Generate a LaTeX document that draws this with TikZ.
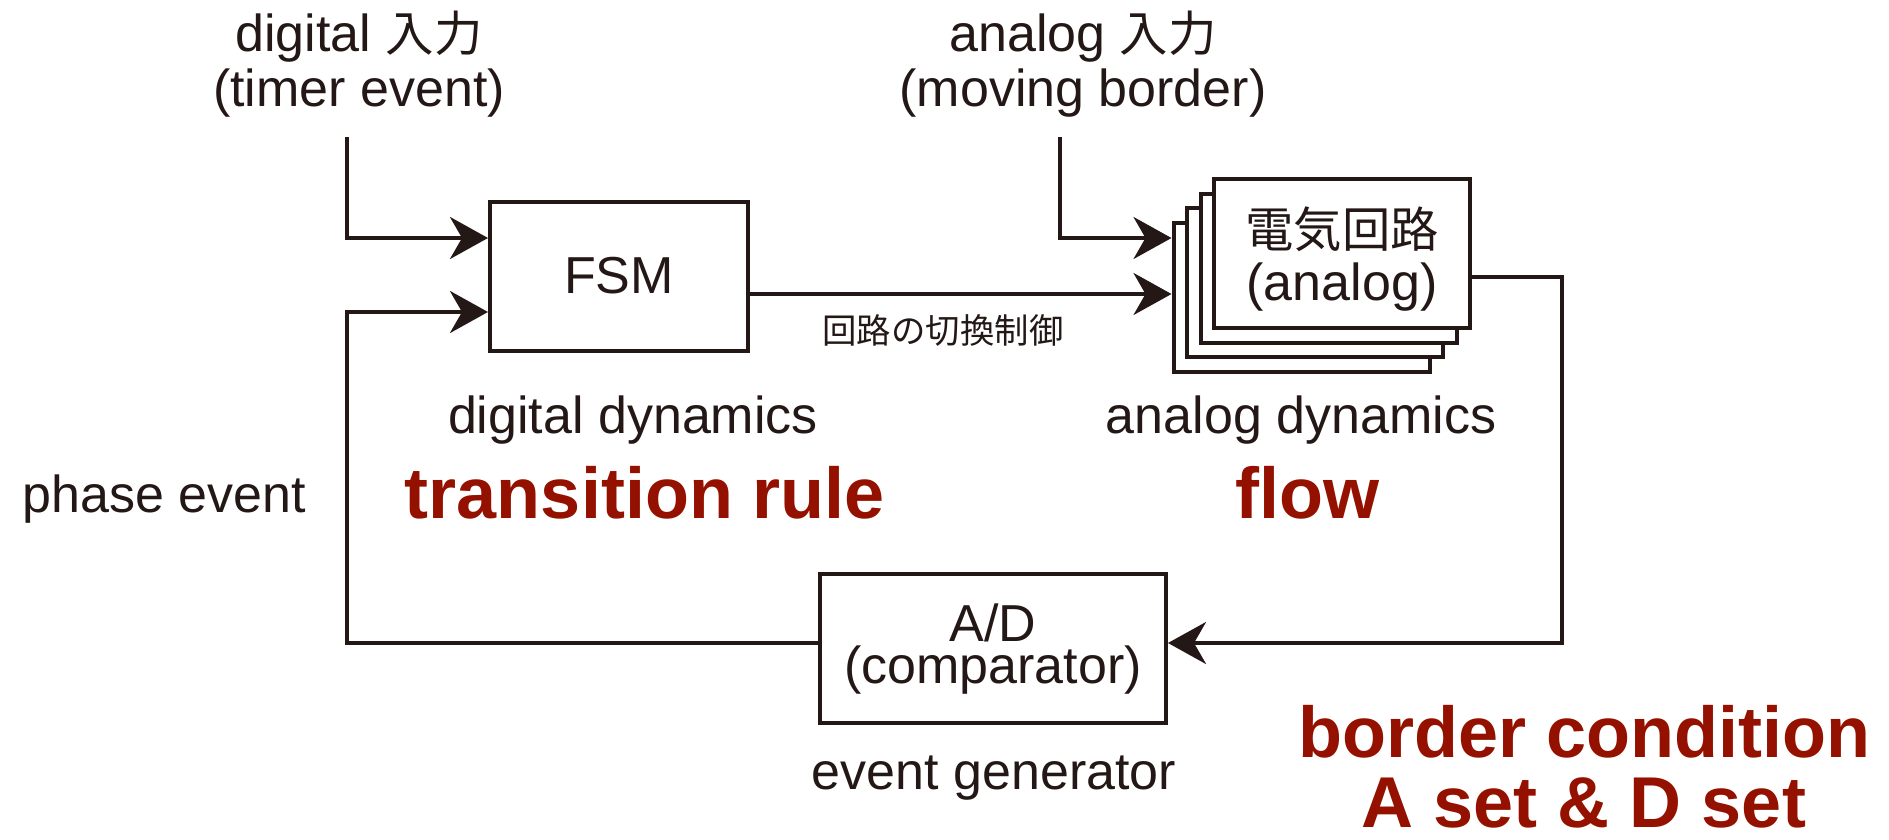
\documentclass[tikz,border=0pt]{standalone}
\usepackage{fontspec}
\setmainfont{Liberation Sans}
\newfontfamily\jp{Noto Sans CJK JP}[Scale=0.93]
\usetikzlibrary{arrows.meta}
\definecolor{ink}{HTML}{231815}
\definecolor{rd}{HTML}{941100}
\tikzset{
  box/.style={draw=ink, line width=4pt, fill=white, inner sep=0pt},
  conn/.style={draw=ink, line width=3.8pt},
  arr/.style={conn, -{Stealth[length=38pt,width=42pt,inset=12pt]}},
  lbl/.style={text=ink, inner sep=0pt, font=\fontsize{52}{55}\selectfont, align=center},
  redlbl/.style={text=rd, inner sep=0pt, font=\fontsize{72}{70}\selectfont\bfseries, align=center},
}
\begin{document}
\begin{tikzpicture}[x=1pt,y={(0pt,-1pt)}]
\useasboundingbox (0,0) rectangle (1889,840);
% boxes
\node[box, minimum width=258pt, minimum height=149pt] (fsm) at (619,276.5) {};
\node[lbl, anchor=base] (fsmt) at (619,293) {FSM};
\node[box, minimum width=256pt, minimum height=149pt] (ck3) at (1301.5,297) {};
\node[box, minimum width=256pt, minimum height=149pt] (ck2) at (1315,282.5) {};
\node[box, minimum width=256pt, minimum height=149pt] (ck1) at (1328.5,268) {};
\node[box, minimum width=256pt, minimum height=149pt] (ck0) at (1342,253.5) {};
\node[lbl, anchor=base, font=\fontsize{52}{53}\selectfont] (ckt) at (1342,300) {{\jp 電気回路}\\(analog)};
\node[box, minimum width=346pt, minimum height=149pt] (ad) at (993,648.5) {};
\node[lbl, anchor=base, font=\fontsize{52}{42}\selectfont] (adt) at (993,683) {A/D\\(comparator)};
% coordinates
\coordinate (dtop) at (347,137);
\coordinate (atop) at (1060,137);
\coordinate (ya) at (0,238);
\coordinate (yb) at (0,312);
\coordinate (yc) at (0,294);
\coordinate (yo) at (0,277);
\coordinate (yad) at (0,643);
\coordinate (xl) at (347,0);
\coordinate (xr) at (1562,0);
% connectors
\draw[arr] (dtop) |- (fsm.west |- ya);
\draw[arr] (ad.west |- yad) -| (xl |- yb) -- (fsm.west |- yb);
\draw[arr] (fsm.east |- yc) -- (ck3.west |- yc);
\draw[arr] (atop) |- (ck3.west |- ya);
\draw[arr] (ck0.east |- yo) -| (xr |- yad) -- (ad.east |- yad);
% labels
\node[lbl, anchor=base] (din) at (359,107) {digital {\jp 入力}\\(timer event)};
\node[lbl, anchor=base] (ain) at (1083,107) {analog {\jp 入力}\\(moving border)};
\node[lbl, anchor=base, font=\fontsize{37}{40}\selectfont] (ctl) at (943,343) {\jp 回路の切換制御};
\node[lbl, anchor=base] (dd) at (633,433) {digital dynamics};
\node[lbl, anchor=base] (adyn) at (1301,433) {analog dynamics};
\node[redlbl, anchor=base] (tr) at (645,518) {transition rule};
\node[redlbl, anchor=base] (fl) at (1307,518) {flow};
\node[lbl, anchor=base] (pe) at (164,512) {phase event};
\node[lbl, anchor=base] (eg) at (994,789) {event generator};
\node[redlbl, anchor=base] (bc) at (1584,827) {border condition\\A set \& D set};
\end{tikzpicture}
\end{document}
